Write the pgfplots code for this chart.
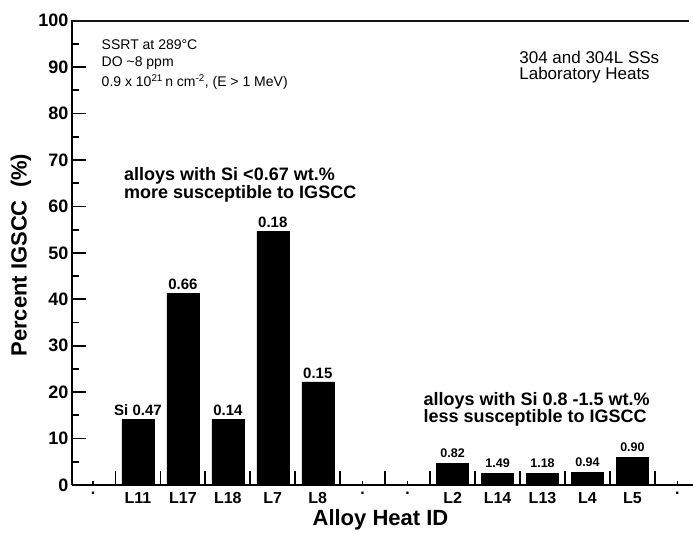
\documentclass[border=0pt]{standalone}
\usepackage{fontspec}
\setmainfont{Liberation Sans}
\usepackage{pgfplots}
\pgfplotsset{compat=1.18}
\newcommand{\fs}[1]{\fontsize{#1}{#1}\selectfont}
\begin{document}
\begin{tikzpicture}
\useasboundingbox (-72pt,-49pt) rectangle (621pt,485pt);
\begin{axis}[
  scale only axis, width=640pt, height=464.3pt,
  xmin=-0.467, xmax=13.77, ymin=0, ymax=100,
  clip=false,
  axis x line*=bottom, axis y line*=left,
  axis line style={line width=2.2pt, -},
  tick pos=left,
  ytick={0,10,...,100}, minor y tick num=1,
  xtick={0.5,1.5,...,12.5}, xticklabels={},
  extra x ticks={0,1,...,13},
  extra x tick labels={.,L11,L17,L18,L7,L8,.,.,L2,L14,L13,L4,L5,.},
  extra x tick style={major tick length=4pt, tick style={line width=1.2pt},
     xticklabel style={font=\bfseries\fs{16}, yshift=-4pt}},
  major tick length=14pt, minor tick length=7pt,
  every tick/.style={black, line width=1.8pt},
  yticklabel style={font=\bfseries\fs{18}},
  /pgf/number format/assume math mode=true,
  xlabel={Alloy Heat ID}, ylabel={Percent IGSCC\ \ (\%)},
  every axis x label/.style={at={(axis description cs:0.482,0)}, anchor=base, yshift=-41pt, font=\bfseries\fs{22}},
  every axis y label/.style={at={(axis description cs:-0.0797,0.495)}, rotate=90, anchor=center, font=\bfseries\fs{22}},
]
\addplot[ybar, bar width=32pt, fill=black, draw=black,
  nodes near coords, point meta=explicit symbolic,
  nodes near coords style={font=\bfseries\fs{15}, black}]
  coordinates {(1,14.2)[Si 0.47] (2,41.3)[0.66] (3,14.2)[0.14] (4,54.7)[0.18] (5,22.2)[0.15]};
\addplot[ybar, bar width=32pt, fill=black, draw=black,
  nodes near coords, point meta=explicit symbolic,
  nodes near coords style={font=\bfseries\fs{12.5}, black, yshift=2pt}]
  coordinates {(8,4.7)[0.82] (9,2.5)[1.49] (10,2.5)[1.18] (11,2.7)[0.94] (12,6.0)[0.90]};
\node[anchor=base west, inner sep=0pt, font=\fs{14}] at (axis cs:0.19,93.7) {SSRT at 289°C};
\node[anchor=base west, inner sep=0pt, font=\fs{14}] at (axis cs:0.19,90.1) {DO \textasciitilde8 ppm};
\node[anchor=base west, inner sep=0pt, font=\fs{14}] at (axis cs:0.19,85.8) {0.9 x 10\textsuperscript{21}\,n cm\textsuperscript{-2}, (E > 1 MeV)};
\node[anchor=base west, inner sep=0pt, font=\fs{17}] at (axis cs:9.48,90.8) {304 and 304L SSs};
\node[anchor=base west, inner sep=0pt, font=\fs{17}] at (axis cs:9.48,87.4) {Laboratory Heats};
\node[anchor=base west, inner sep=0pt, font=\bfseries\fs{18}] at (axis cs:0.69,65.5) {alloys with Si <0.67 wt.\%};
\node[anchor=base west, inner sep=0pt, font=\bfseries\fs{18}] at (axis cs:0.69,61.6) {more susceptible to IGSCC};
\node[anchor=base west, inner sep=0pt, font=\bfseries\fs{18}] at (axis cs:7.35,17.2) {alloys with Si 0.8 -1.5 wt.\%};
\node[anchor=base west, inner sep=0pt, font=\bfseries\fs{18}] at (axis cs:7.35,13.4) {less susceptible to IGSCC};
\end{axis}
\fill[black!92] (-1.2pt,462.6pt) rectangle (617pt,465.2pt);
\end{tikzpicture}
\end{document}
